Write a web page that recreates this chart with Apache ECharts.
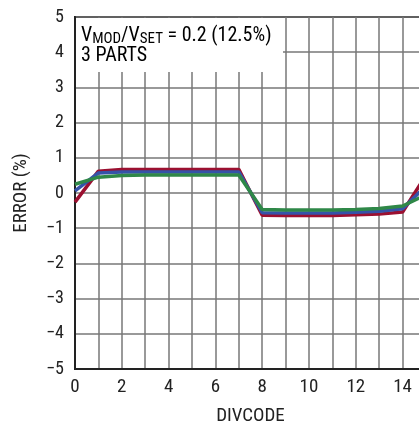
<!DOCTYPE html>
<html><head><meta charset="utf-8">
<script src="https://cdn.jsdelivr.net/npm/echarts@6/dist/echarts.min.js"></script>
<style>html,body{margin:0;padding:0;background:#fff}#c{width:419px;height:425px}</style>
</head><body><div id="c"></div>
<script>
const divcode = [0,1,2,3,4,5,6,7,8,9,10,11,12,13,14,15];
const part1 = [-0.26,0.62,0.67,0.67,0.67,0.67,0.67,0.67,-0.63,-0.64,-0.64,-0.64,-0.62,-0.60,-0.54,0.50];
const part2 = [0.06,0.57,0.60,0.60,0.60,0.60,0.60,0.60,-0.56,-0.57,-0.57,-0.57,-0.55,-0.52,-0.45,0.20];
const part3 = [0.25,0.45,0.50,0.51,0.51,0.51,0.51,0.51,-0.47,-0.48,-0.48,-0.48,-0.47,-0.44,-0.37,-0.05];
const yTicks = [-5,-4,-3,-2,-1,0,1,2,3,4,5];
const FONT = '"Roboto Condensed","Liberation Sans",Arial,sans-serif';
const toPairs = a => a.map((v,i)=>[divcode[i], v]);
const chart = echarts.init(document.getElementById('c'));
const mk = (name, data, color, z) => ({
  name, type:'line', data: toPairs(data), symbol:'none', z,
  lineStyle:{color, width:3.5}, itemStyle:{color}
});
chart.setOption({
  animation:false,
  grid:{left:75, width:351, top:17, height:352, outerBoundsMode:'none', containLabel:false,
    show:true, borderColor:'#222', borderWidth:2, backgroundColor:'transparent'},
  xAxis:{type:'value', min:0, max:15, interval:1,
    name:'DIVCODE', nameLocation:'middle', nameGap:38,
    nameTextStyle:{fontFamily:FONT, fontSize:19, color:'#222'},
    axisLine:{show:true, onZero:false, lineStyle:{color:'#222', width:2}},
    axisTick:{show:false},
    axisLabel:{fontFamily:FONT, fontSize:19, color:'#222', margin:9,
      formatter:v => (v%2===0 && v<=14) ? String(v) : ''},
    splitLine:{show:true, lineStyle:{color:'#777', width:1.5}}
  },
  yAxis:{type:'value', min:-5, max:5, interval:1,
    name:'ERROR (%)', nameLocation:'middle', nameGap:44, nameRotate:90,
    nameTextStyle:{fontFamily:FONT, fontSize:19, color:'#222'},
    axisLine:{show:true, onZero:false, lineStyle:{color:'#222', width:2}},
    axisTick:{show:false},
    axisLabel:{fontFamily:FONT, fontSize:18, color:'#222', margin:11,
      formatter:v => yTicks.includes(v) ? String(v).replace('-', '\u2212') : ''},
    splitLine:{show:true, lineStyle:{color:'#777', width:1.5}}
  },
  series:[
    mk('Part 1', part1, '#9b1030', 3),
    mk('Part 2', part2, '#3553a8', 4),
    mk('Part 3', part3, '#2f8848', 5)
  ],
  graphic:[
    {type:'rect', left:76, top:18, shape:{width:207, height:54}, style:{fill:'#fff'}, z:1, silent:true},
    {type:'text', left:81, top:25, z:2,
      style:{
        text:'{a|V}{s|MOD}{a|/V}{s|SET}{a| = 0.2 (12.5%)}\n{a|3 PARTS}',
        rich:{
          a:{fontFamily:FONT, fontSize:20, color:'#222', lineHeight:20},
          s:{fontFamily:FONT, fontSize:15, color:'#222', lineHeight:20, padding:[7,0,0,0]}
        }
      }
    }
  ]
});
</script></body></html>
